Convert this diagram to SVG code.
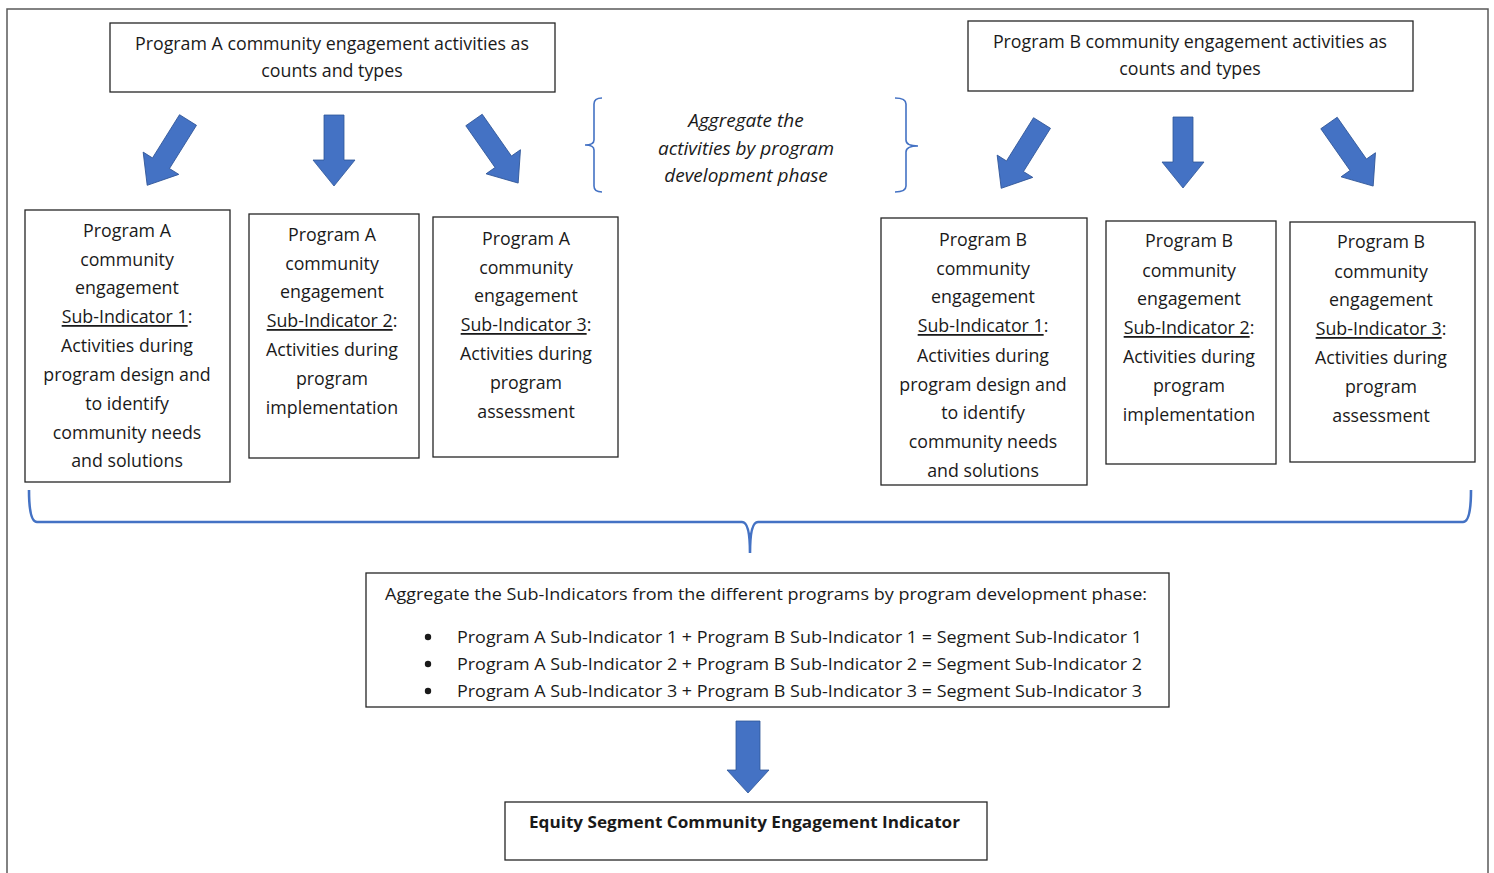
<svg xmlns="http://www.w3.org/2000/svg" width="1494" height="873" viewBox="0 0 1494 873">
<defs>
<style>
.box{fill:#fff;stroke:#262626;stroke-width:1.3}
.t{font-family:"Open Sans","Noto Sans",sans-serif;font-size:17.8px;fill:#1a1a1a;text-anchor:middle;dominant-baseline:central}
.c{font-family:"Open Sans","Noto Sans",sans-serif;font-size:15.5px;fill:#1a1a1a;dominant-baseline:central}
.i{font-style:italic;font-size:19px}
.u{text-decoration:underline}
.b{font-weight:bold}
.arr{fill:#4472C4;stroke:#2F5597;stroke-width:0.8}
.brace{fill:none;stroke:#4472C4;stroke-width:1.6}
.brace2{fill:none;stroke:#4472C4;stroke-width:2.6}
</style>
<path id="dn" d="M-10,0 L10,0 L10,45 L21,45 L0,71 L-21,45 L-10,45 Z"/>
<path id="dg" d="M-10,0 L10,0 L10,51 L21,51 L0,77 L-21,51 L-10,51 Z"/>
</defs>
<rect x="7" y="9" width="1481" height="880" fill="#fff" stroke="#595959" stroke-width="1.5"/>

<g id="progA">
<rect class="box" x="110" y="23" width="445" height="69"/>
<text class="t" x="332" y="43">Program A community engagement activities as</text>
<text class="t" x="332" y="70">counts and types</text>
</g>
<g id="progB">
<rect class="box" x="968" y="21" width="445" height="70"/>
<text class="t" x="1190" y="41">Program B community engagement activities as</text>
<text class="t" x="1190" y="68">counts and types</text>
</g>

<g id="aggLabel">
<path class="brace" d="M602,98 Q594,98 594,104 L594,140 Q594,145 585,145 Q594,145 594,150 L594,186 Q594,192 602,192"/>
<path class="brace" d="M895,98 Q906,98 906,104 L906,140 Q906,146 918,146 Q906,146 906,152 L906,186 Q906,192 895,192"/>
<text class="t i" x="746" y="120">Aggregate the</text>
<text class="t i" x="746" y="148">activities by program</text>
<text class="t i" x="746" y="175">development phase</text>
</g>

<g id="A1">
<rect class="box" x="25" y="210" width="205" height="272"/>
<text class="t" x="127" y="230">Program A</text>
<text class="t" x="127" y="259">community</text>
<text class="t" x="127" y="287">engagement</text>
<text class="t" x="127" y="316"><tspan class="u">Sub-Indicator 1</tspan>:</text>
<text class="t" x="127" y="345">Activities during</text>
<text class="t" x="127" y="374">program design and</text>
<text class="t" x="127" y="403">to identify</text>
<text class="t" x="127" y="432">community needs</text>
<text class="t" x="127" y="460">and solutions</text>
</g>
<g id="A2">
<rect class="box" x="249" y="214" width="170" height="244"/>
<text class="t" x="332" y="234">Program A</text>
<text class="t" x="332" y="263">community</text>
<text class="t" x="332" y="291">engagement</text>
<text class="t" x="332" y="320"><tspan class="u">Sub-Indicator 2</tspan>:</text>
<text class="t" x="332" y="349">Activities during</text>
<text class="t" x="332" y="378">program</text>
<text class="t" x="332" y="407">implementation</text>
</g>
<g id="A3">
<rect class="box" x="433" y="217" width="185" height="240"/>
<text class="t" x="526" y="238">Program A</text>
<text class="t" x="526" y="267">community</text>
<text class="t" x="526" y="295">engagement</text>
<text class="t" x="526" y="324"><tspan class="u">Sub-Indicator 3</tspan>:</text>
<text class="t" x="526" y="353">Activities during</text>
<text class="t" x="526" y="382">program</text>
<text class="t" x="526" y="411">assessment</text>
</g>
<g id="B1">
<rect class="box" x="881" y="218" width="206" height="267"/>
<text class="t" x="983" y="239">Program B</text>
<text class="t" x="983" y="268">community</text>
<text class="t" x="983" y="296">engagement</text>
<text class="t" x="983" y="325"><tspan class="u">Sub-Indicator 1</tspan>:</text>
<text class="t" x="983" y="355">Activities during</text>
<text class="t" x="983" y="384">program design and</text>
<text class="t" x="983" y="412">to identify</text>
<text class="t" x="983" y="441">community needs</text>
<text class="t" x="983" y="470">and solutions</text>
</g>
<g id="B2">
<rect class="box" x="1106" y="221" width="170" height="243"/>
<text class="t" x="1189" y="240">Program B</text>
<text class="t" x="1189" y="270">community</text>
<text class="t" x="1189" y="298">engagement</text>
<text class="t" x="1189" y="327"><tspan class="u">Sub-Indicator 2</tspan>:</text>
<text class="t" x="1189" y="356">Activities during</text>
<text class="t" x="1189" y="385">program</text>
<text class="t" x="1189" y="414">implementation</text>
</g>
<g id="B3">
<rect class="box" x="1290" y="222" width="185" height="240"/>
<text class="t" x="1381" y="241">Program B</text>
<text class="t" x="1381" y="271">community</text>
<text class="t" x="1381" y="299">engagement</text>
<text class="t" x="1381" y="328"><tspan class="u">Sub-Indicator 3</tspan>:</text>
<text class="t" x="1381" y="357">Activities during</text>
<text class="t" x="1381" y="386">program</text>
<text class="t" x="1381" y="415">assessment</text>
</g>

<g id="aggBox">
<rect class="box" x="366" y="573" width="803" height="134"/>
<text class="c" x="385" y="594" textLength="762" lengthAdjust="spacingAndGlyphs">Aggregate the Sub-Indicators from the different programs by program development phase:</text>
<circle cx="428" cy="637" r="3.2" fill="#1a1a1a"/>
<circle cx="428" cy="664" r="3.2" fill="#1a1a1a"/>
<circle cx="428" cy="691" r="3.2" fill="#1a1a1a"/>
<text class="c" x="457" y="637" textLength="685" lengthAdjust="spacingAndGlyphs">Program A Sub-Indicator 1 + Program B Sub-Indicator 1 = Segment Sub-Indicator 1</text>
<text class="c" x="457" y="664" textLength="685" lengthAdjust="spacingAndGlyphs">Program A Sub-Indicator 2 + Program B Sub-Indicator 2 = Segment Sub-Indicator 2</text>
<text class="c" x="457" y="691" textLength="685" lengthAdjust="spacingAndGlyphs">Program A Sub-Indicator 3 + Program B Sub-Indicator 3 = Segment Sub-Indicator 3</text>
</g>

<g id="final">
<rect class="box" x="505" y="802" width="482" height="58"/>
<text class="c b" x="529" y="822" textLength="431" lengthAdjust="spacingAndGlyphs">Equity Segment Community Engagement Indicator</text>
</g>

<g id="connectors">
<use href="#dg" class="arr" transform="translate(188,120) rotate(32)"/>
<use href="#dn" class="arr" transform="translate(334,115)"/>
<use href="#dg" class="arr" transform="translate(474,120) rotate(-35)"/>
<use href="#dg" class="arr" transform="translate(1042,123) rotate(32)"/>
<use href="#dn" class="arr" transform="translate(1183,117)"/>
<use href="#dg" class="arr" transform="translate(1329,123) rotate(-35)"/>
<path class="arr" d="M736,721 L760,721 L760,770 L769,770 L748,793 L727,770 L736,770 Z"/>
<path class="brace2" d="M29,490 Q29,522 37,522 L742,522 Q750,522 750,553 Q750,522 758,522 L1463,522 Q1471,522 1471,490"/>
</g>
</svg>
